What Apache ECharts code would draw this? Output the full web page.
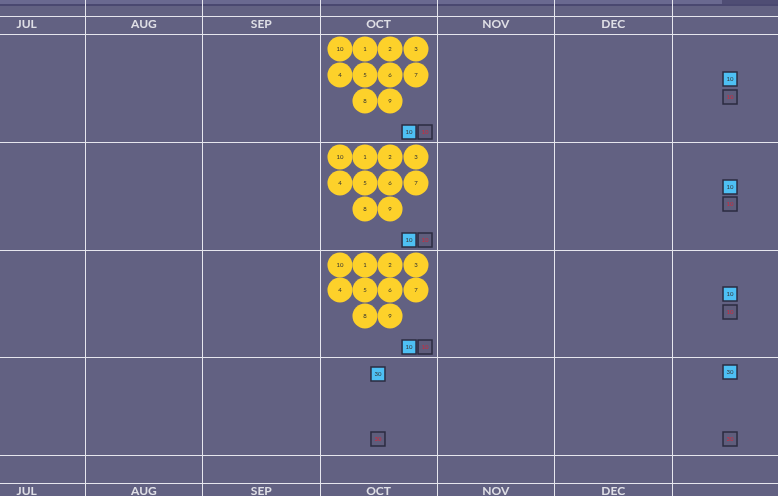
<!DOCTYPE html>
<html><head><meta charset="utf-8">
<script src="https://cdn.jsdelivr.net/npm/echarts@6/dist/echarts.min.js"></script>
<style>html,body{margin:0;padding:0;background:#626182;}#c{width:778px;height:496px;}</style>
</head><body><div id="c"></div>
<script>
const months = ['JUL','AUG','SEP','OCT','NOV','DEC',''];
const colLines = [1,2,3,4,5,6];
const rowLines = [16,34,142,250,357,455,483];
// circles: [column coord, row coord, label]
const circleX = [3.171,3.384,3.598,3.819];
const circleRowsY = [[49,75,101],[157,183,209],[265,290,316]];
const circleLabels = [['10','1','2','3'],['4','5','6','7'],[null,'8','9',null]];
const blueBoxes = [[3.76,132,'10'],[3.76,240,'10'],[3.76,347,'10'],[6.496,79,'10'],[6.496,187,'10'],[6.496,294,'10'],[3.495,374,'30'],[6.496,372,'30']];
const darkBoxes = [[3.896,132,'10'],[3.896,240,'10'],[3.896,347,'10'],[6.496,97,'10'],[6.496,204,'10'],[6.496,312,'10'],[3.495,439,'30'],[6.496,439,'30']];

const circles = [];
circleRowsY.forEach(ys => ys.forEach((y,r) => circleX.forEach((x,c) => {
  const l = circleLabels[r][c]; if (l) circles.push([x,y,l]);
})));
const headers = [];
months.forEach((m,i)=>{ headers.push([i+0.5,24,m]); headers.push([i+0.5,491,m]); });

const chart = echarts.init(document.getElementById('c'));
const lineStyle = {color:'#e6e6ee',width:1,type:'solid'};
chart.setOption({
  backgroundColor:'#626182',
  animation:false,
  graphic:[
    {type:'rect',shape:{x:0,y:0,width:778,height:4},style:{fill:'#6a6990'},z:-1},
    {type:'rect',shape:{x:722,y:0,width:56,height:4},style:{fill:'#4f4d74'},z:-1},
    {type:'rect',shape:{x:0,y:4,width:778,height:2},style:{fill:'#4a4870'},z:-1}
  ],
  grid:{left:0,right:0,top:0,bottom:0},
  xAxis:{type:'value',min:0.273,max:6.905,show:false},
  yAxis:{type:'value',min:0,max:496,inverse:true,show:false},
  series:[
    {type:'scatter',data:[],silent:true,
     markLine:{symbol:'none',silent:true,label:{show:false},lineStyle,
       data:colLines.map(v=>({xAxis:v})).concat(rowLines.map(v=>({yAxis:v})))}},
    {type:'scatter',data:headers,symbolSize:0,
     label:{show:true,position:'inside',formatter:p=>p.data[2],color:'#ffffff',fontSize:12,fontFamily:'Lato',fontWeight:'bold'}},
    {type:'scatter',data:circles,symbolSize:25,itemStyle:{color:'#fdd12a',opacity:1},
     label:{show:true,position:'inside',formatter:p=>p.data[2],color:'#333',fontSize:6,fontFamily:'Lato'}},
    {type:'scatter',data:blueBoxes,symbol:'rect',symbolSize:14,
     itemStyle:{color:'#4ec0f4',borderColor:'#2b2b40',borderWidth:1.5,opacity:1},
     label:{show:true,position:'inside',formatter:p=>p.data[2],color:'#333',fontSize:6,fontFamily:'Lato'}},
    {type:'scatter',data:darkBoxes,symbol:'rect',symbolSize:14,
     itemStyle:{color:'#5f5d7c',borderColor:'#2b2b40',borderWidth:1.5,opacity:1},
     label:{show:true,position:'inside',formatter:p=>p.data[2],color:'#d0283c',fontSize:6,fontFamily:'Lato'}}
  ]
});
</script></body></html>
